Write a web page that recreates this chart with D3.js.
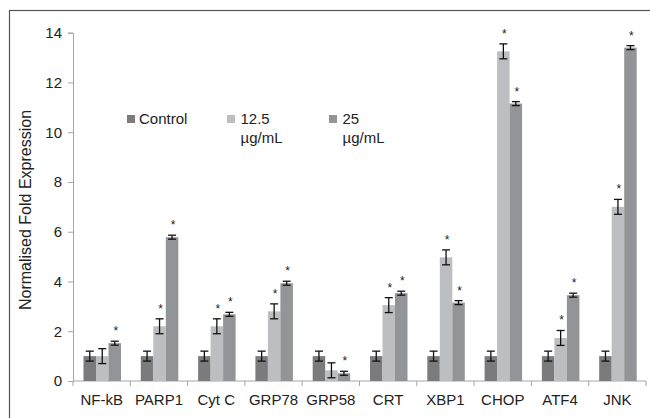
<!DOCTYPE html>
<html>
<head>
<meta charset="utf-8">
<script src="https://cdn.jsdelivr.net/npm/d3@7"></script>
<style>
  body { margin: 0; background: #fff; }
  svg { display: block; font-family: "Liberation Sans", Arial, sans-serif; }
</style>
</head>
<body>
<div id="chart"></div>
<script>
var genes = ["NF-kB", "PARP1", "Cyt C", "GRP78", "GRP58", "CRT", "XBP1", "CHOP", "ATF4", "JNK"];
var seriesNames = ["Control", "12.5 µg/mL", "25 µg/mL"];
var control = [1, 1, 1, 1, 1, 1, 1, 1, 1, 1];
var dose125 = [1, 2.2, 2.2, 2.8, 0.43, 3.05, 4.97, 13.25, 1.73, 7.0];
var dose25 = [1.52, 5.78, 2.68, 3.93, 0.31, 3.53, 3.15, 11.15, 3.45, 13.4];
var errControl = [0.2, 0.2, 0.2, 0.2, 0.2, 0.2, 0.2, 0.2, 0.2, 0.2];
var err125 = [0.3, 0.3, 0.3, 0.3, 0.3, 0.3, 0.3, 0.3, 0.3, 0.3];
var err25 = [0.08, 0.08, 0.08, 0.08, 0.08, 0.08, 0.08, 0.08, 0.08, 0.08];
// significance marks, 1 = asterisk
var sig125 = [0, 1, 1, 1, 0, 1, 1, 1, 1, 1];
var sig25 = [1, 1, 1, 1, 1, 1, 1, 1, 1, 1];
var yTicks = [0, 2, 4, 6, 8, 10, 12, 14];

var colors = ["#7b7b7d", "#bdbec1", "#939497"];
var values = [control, dose125, dose25];
var errors = [errControl, err125, err25];
var sigs = [control.map(function() { return 0; }), sig125, sig25];

var data = [];
genes.forEach(function(g, i) {
  seriesNames.forEach(function(s, j) {
    data.push({ gene: g, series: j, value: values[j][i], err: errors[j][i], sig: sigs[j][i] });
  });
});

var width = 650, height = 418;

var svg = d3.select("#chart").append("svg")
    .attr("width", width)
    .attr("height", height);

// outer frame
svg.append("rect")
    .attr("x", 9.5).attr("y", 10.5)
    .attr("width", 660).attr("height", 420)
    .attr("fill", "none")
    .attr("stroke", "#555")
    .attr("stroke-width", 1.2);

var x = d3.scaleBand().domain(genes).range([73, 646]),
    y = d3.scaleLinear().domain([0, 14]).range([381, 32.7]);

var xs = d3.scaleBand().domain([0, 1, 2]).range([10.5, 48]);

// y axis
var yAxis = svg.append("g")
    .attr("transform", "translate(73,0)")
    .call(d3.axisLeft(y).tickValues(yTicks).tickSize(5).tickPadding(6));

// x axis, ticks at band edges
var xAxis = svg.append("g")
    .attr("transform", "translate(0," + y(0) + ")");
xAxis.append("line")
    .attr("x1", 73).attr("x2", 646)
    .attr("stroke", "#a6a6a6");
xAxis.selectAll(".tk")
    .data(genes.concat(["end"]))
  .enter().append("line")
    .attr("class", "tk")
    .attr("x1", function(d, i) { return 73 + i * x.bandwidth(); })
    .attr("x2", function(d, i) { return 73 + i * x.bandwidth(); })
    .attr("y1", 0).attr("y2", 5)
    .attr("stroke", "#a6a6a6");
xAxis.selectAll("text")
    .data(genes)
  .enter().append("text")
    .attr("x", function(d) { return x(d) + x.bandwidth() / 2; })
    .attr("y", 24)
    .attr("text-anchor", "middle")
    .attr("font-size", 15)
    .attr("fill", "#222")
    .text(function(d) { return d; });

yAxis.select(".domain").attr("stroke", "#a6a6a6");
yAxis.selectAll(".tick line").attr("stroke", "#a6a6a6");
yAxis.selectAll(".tick text")
    .attr("font-size", 15)
    .attr("font-family", "Liberation Sans, Arial, sans-serif")
    .attr("fill", "#222");

svg.append("text")
    .attr("transform", "translate(31,210) rotate(-90)")
    .attr("text-anchor", "middle")
    .attr("font-size", 16)
    .attr("fill", "#222")
    .text("Normalised Fold Expression");

// bars
svg.selectAll(".bar")
    .data(data)
  .enter().append("rect")
    .attr("class", "bar")
    .attr("x", function(d) { return x(d.gene) + xs(d.series); })
    .attr("y", function(d) { return y(d.value); })
    .attr("width", xs.bandwidth())
    .attr("height", function(d) { return y(0) - y(d.value); })
    .attr("fill", function(d) { return colors[d.series]; });

// error bars
var eb = svg.selectAll(".err")
    .data(data)
  .enter().append("g")
    .attr("class", "err")
    .attr("transform", function(d) { return "translate(" + (x(d.gene) + xs(d.series) + xs.bandwidth() / 2) + ",0)"; })
    .attr("stroke", "#111")
    .attr("stroke-width", 1.3);
eb.append("line")
    .attr("y1", function(d) { return y(d.value + d.err); })
    .attr("y2", function(d) { return y(d.value - d.err); });
eb.append("line")
    .attr("x1", -4).attr("x2", 4)
    .attr("y1", function(d) { return y(d.value + d.err); })
    .attr("y2", function(d) { return y(d.value + d.err); });
eb.append("line")
    .attr("x1", -4).attr("x2", 4)
    .attr("y1", function(d) { return y(d.value - d.err); })
    .attr("y2", function(d) { return y(d.value - d.err); });

// asterisks
svg.selectAll(".star")
    .data(data.filter(function(d) { return d.sig; }))
  .enter().append("text")
    .attr("class", "star")
    .attr("x", function(d) { return x(d.gene) + xs(d.series) + xs.bandwidth() / 2 + 1; })
    .attr("y", function(d) { return y(d.value + d.err) - 6; })
    .attr("text-anchor", "middle")
    .attr("font-size", 12)
    .attr("fill", "#222")
    .text("*");

// legend
var legendX = [127, 227, 329];
var legend = svg.selectAll(".legend")
    .data(seriesNames)
  .enter().append("g")
    .attr("class", "legend")
    .attr("transform", function(d, i) { return "translate(" + legendX[i] + ",115)"; });
legend.append("rect")
    .attr("width", 8).attr("height", 8)
    .attr("fill", function(d, i) { return colors[i]; });
legend.append("text")
    .attr("x", 12)
    .attr("y", 9)
    .attr("font-size", 15)
    .attr("fill", "#222")
    .each(function(d) {
      var parts = d.split(" ");
      var t = d3.select(this);
      parts.forEach(function(p, k) {
        t.append("tspan").attr("x", 12 + (parts.length > 1 ? 1.5 : 0)).attr("dy", k ? 19 : 0).text(p);
      });
    });
</script>
</body>
</html>
